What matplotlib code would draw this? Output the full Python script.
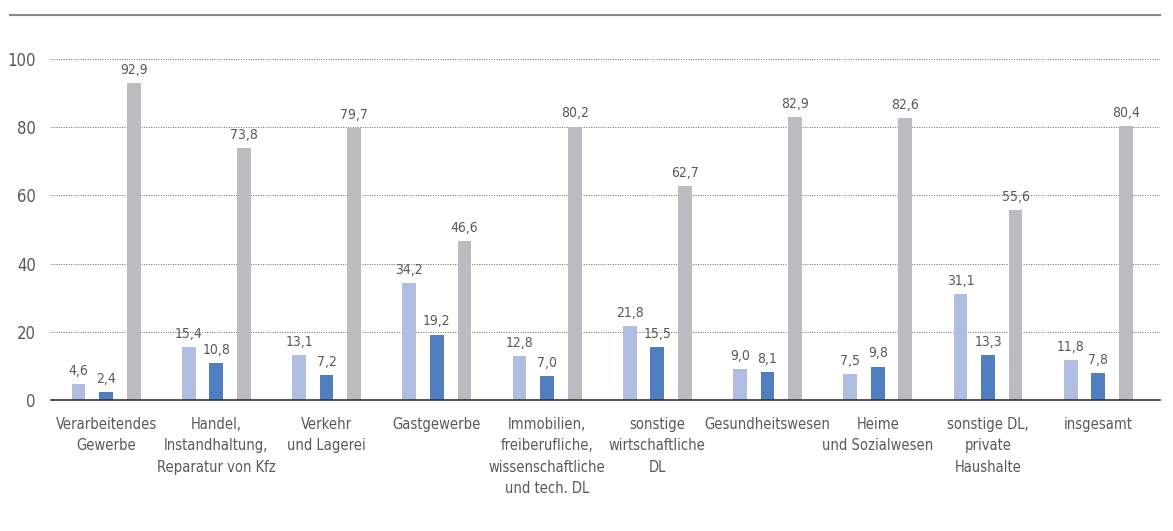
import matplotlib.pyplot as plt
from matplotlib.lines import Line2D
import numpy as np

categories = ['Verarbeitendes\nGewerbe', 'Handel,\nInstandhaltung,\nReparatur von Kfz',
              'Verkehr\nund Lagerei', 'Gastgewerbe',
              'Immobilien,\nfreiberufliche,\nwissenschaftliche\nund tech. DL',
              'sonstige\nwirtschaftliche\nDL', 'Gesundheitswesen',
              'Heime\nund Sozialwesen', 'sonstige DL,\nprivate\nHaushalte', 'insgesamt']
series_a = [4.6, 15.4, 13.1, 34.2, 12.8, 21.8, 9.0, 7.5, 31.1, 11.8]
series_b = [2.4, 10.8, 7.2, 19.2, 7.0, 15.5, 8.1, 9.8, 13.3, 7.8]
series_c = [92.9, 73.8, 79.7, 46.6, 80.2, 62.7, 82.9, 82.6, 55.6, 80.4]
yticks = [0, 20, 40, 60, 80, 100]

plt.rcParams['font.family'] = 'DejaVu Sans'
plt.rcParams['font.stretch'] = 'condensed'
txt = '#595959'

fig = plt.figure(figsize=(11.73, 5.31), dpi=100)
ax = fig.add_axes([51 / 1173, 131 / 531, 1109 / 1173, 341 / 531])

x = np.arange(len(categories))
w = 0.125
off = 0.25
colors = ['#aebde0', '#4f7fc1', '#bbbcc0']
for vals, dx, c in zip([series_a, series_b, series_c], [-off, 0, off], colors):
    bars = ax.bar(x + dx, vals, width=w, color=c, zorder=3)
    for b, v in zip(bars, vals):
        ax.text(b.get_x() + b.get_width() / 2, v + 1.8, f'{v:.1f}'.replace('.', ','),
                ha='center', va='bottom', fontsize=10, color=txt)

ax.set_xlim(-0.5, 9.56)
ax.set_ylim(0, 100)
ax.set_yticks(yticks)
ax.set_yticklabels([str(t) for t in yticks], fontsize=12, color=txt)
ax.set_xticks(x)
ax.set_xticklabels(categories, fontsize=10.5, color=txt, linespacing=1.55, va='top')
ax.tick_params(axis='both', length=0)
ax.tick_params(axis='y', pad=11)
ax.tick_params(axis='x', pad=12)
for t in yticks[1:]:
    ax.axhline(t, color='#666666', lw=0.7, ls=(0, (1, 1.5)), zorder=1)
for s in ['top', 'right', 'left']:
    ax.spines[s].set_visible(False)
ax.spines['bottom'].set_color('#333333')
ax.spines['bottom'].set_linewidth(1.2)
ax.spines['bottom'].set_zorder(4)

fig.add_artist(Line2D([10 / 1173, 1160 / 1173], [1 - 15 / 531, 1 - 15 / 531],
                      color='#888888', lw=1.5))

fig.savefig('out.png', dpi=100)
